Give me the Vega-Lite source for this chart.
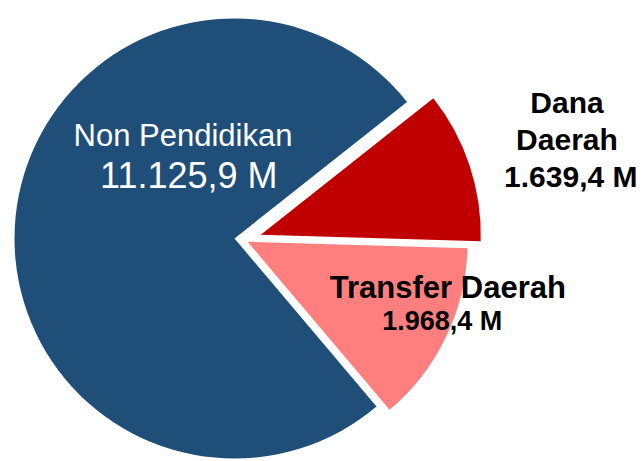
{
  "$schema": "https://vega.github.io/schema/vega-lite/v6.json",
  "width": 469,
  "height": 445,
  "autosize": {"type": "none"},
  "padding": {"left": 0, "top": 16, "right": 175, "bottom": 0},
  "background": "white",
  "config": {"view": {"stroke": null}},
  "data": {"values": [
    {"kategori": "Non Pendidikan", "nilai": 11125.9, "label": "11.125,9 M"},
    {"kategori": "Dana Daerah", "nilai": 1639.4, "label": "1.639,4 M"},
    {"kategori": "Transfer Daerah", "nilai": 1968.4, "label": "1.968,4 M"}
  ]},
  "encoding": {
    "theta": {"field": "nilai", "type": "quantitative", "stack": true, "scale": {"range": [0.9015, 7.1847]}},
    "order": {"field": "nilai", "type": "quantitative", "sort": "ascending"},
    "color": {"field": "kategori", "type": "nominal", "scale": {"domain": ["Non Pendidikan", "Dana Daerah", "Transfer Daerah"], "range": ["#1F4E79", "#C00000", "#FF7F7F"]}, "legend": null}
  },
  "layer": [
    {
      "mark": {"type": "arc", "radius": 220, "strokeWidth": 0},
      "encoding": {"opacity": {"condition": {"test": "datum.kategori === 'Non Pendidikan'", "value": 1}, "value": 0}}
    },
    {
      "mark": {"type": "arc", "radius": 220, "strokeWidth": 0, "xOffset": 26.3, "yOffset": -3.7},
      "encoding": {"opacity": {"condition": {"test": "datum.kategori === 'Dana Daerah'", "value": 1}, "value": 0}}
    },
    {
      "mark": {"type": "arc", "radius": 220, "strokeWidth": 0, "xOffset": 13.1, "yOffset": 3.3},
      "encoding": {"opacity": {"condition": {"test": "datum.kategori === 'Transfer Daerah'", "value": 1}, "value": 0}}
    },
    {
      "mark": {"type": "text", "radius": 60, "dx": 8.2, "dy": -86.3, "align": "center", "baseline": "alphabetic", "font": "Liberation Sans", "fontSize": 31},
      "encoding": {
        "text": {"field": "kategori"},
        "color": {"value": "white"},
        "opacity": {"condition": {"test": "datum.kategori === 'Non Pendidikan'", "value": 1}, "value": 0}
      }
    },
    {
      "mark": {"type": "text", "radius": 60, "dx": 14, "dy": -45, "align": "center", "baseline": "alphabetic", "font": "Liberation Sans", "fontSize": 36},
      "encoding": {
        "text": {"field": "label"},
        "color": {"value": "white"},
        "opacity": {"condition": {"test": "datum.kategori === 'Non Pendidikan'", "value": 1}, "value": 0}
      }
    },
    {
      "mark": {"type": "text", "radius": 320, "dx": 28.7, "dy": -24.6, "align": "center", "baseline": "alphabetic", "font": "Liberation Sans", "fontSize": 30, "fontWeight": "bold", "lineBreak": " ", "lineHeight": 36.5},
      "encoding": {
        "text": {"field": "kategori"},
        "color": {"value": "black"},
        "opacity": {"condition": {"test": "datum.kategori === 'Dana Daerah'", "value": 1}, "value": 0}
      }
    },
    {
      "mark": {"type": "text", "radius": 320, "dx": 32.5, "dy": 48.8, "align": "center", "baseline": "alphabetic", "font": "Liberation Sans", "fontSize": 30, "fontWeight": "bold"},
      "encoding": {
        "text": {"field": "label"},
        "color": {"value": "black"},
        "opacity": {"condition": {"test": "datum.kategori === 'Dana Daerah'", "value": 1}, "value": 0}
      }
    },
    {
      "mark": {"type": "text", "radius": 220, "dx": 15.2, "dy": -35.8, "align": "center", "baseline": "alphabetic", "font": "Liberation Sans", "fontSize": 31, "fontWeight": "bold"},
      "encoding": {
        "text": {"field": "kategori"},
        "color": {"value": "black"},
        "opacity": {"condition": {"test": "datum.kategori === 'Transfer Daerah'", "value": 1}, "value": 0}
      }
    },
    {
      "mark": {"type": "text", "radius": 220, "dx": 9.6, "dy": -4.1, "align": "center", "baseline": "alphabetic", "font": "Liberation Sans", "fontSize": 27, "fontWeight": "bold"},
      "encoding": {
        "text": {"field": "label"},
        "color": {"value": "black"},
        "opacity": {"condition": {"test": "datum.kategori === 'Transfer Daerah'", "value": 1}, "value": 0}
      }
    }
  ]
}
